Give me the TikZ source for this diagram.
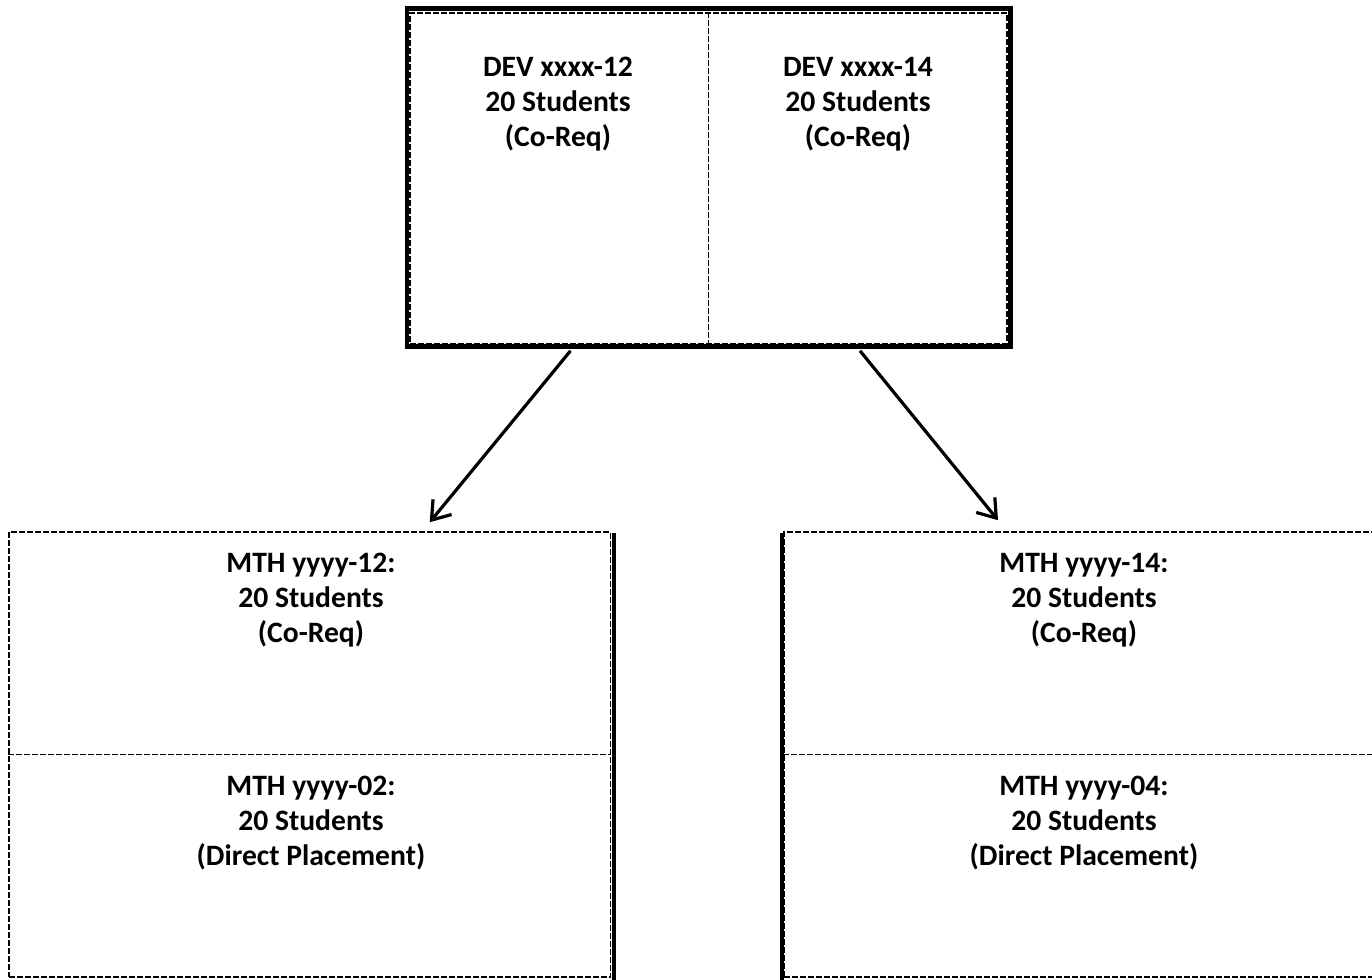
\documentclass[tikz,border=0pt]{standalone}
\usepackage{fontspec}
\setmainfont{Carlito}
\usetikzlibrary{arrows.meta,calc}
\begin{document}
\begin{tikzpicture}[x=0.5pt,y=-0.5pt,
  dashline/.style={draw=black,line width=0.8pt,dash pattern=on 3pt off 1pt},
  cell/.style={dashline,rectangle,inner sep=0pt},
  frame/.style={draw=black,line width=2.25pt,rectangle,inner sep=0pt},
  edgebar/.style={draw=black,line width=2pt},
  label/.style={align=center,font=\fontsize{14.8pt}{17.5pt}\selectfont\bfseries,inner sep=0pt},
  conn/.style={draw=black,line width=1.6pt,-{Straight Barb[length=8.5pt,width=12pt,line width=1.6pt]}}]
\useasboundingbox (0,0) rectangle (1372,980);
\clip (0,0) rectangle (1372,980);
% top box
\node[frame,minimum width=301.75pt,minimum height=169pt] (top) at (708.75,177.5) {};
\node[cell,minimum width=298.5pt,minimum height=165.5pt] (tin) at (708.5,178.5) {};
\draw[dashline] (tin.north) -- (tin.south);
\node[label] (tltext) at (558,104) {DEV xxxx-12\\20 Students\\(Co-Req)};
\node[label] (trtext) at (858,104) {DEV xxxx-14\\20 Students\\(Co-Req)};
% bottom left box
\node[cell,minimum width=300.75pt,minimum height=222.5pt] (bl) at (309.75,754.5) {};
\draw[dashline] (bl.west) -- (bl.east);
\coordinate (blbt) at (614,533);
\coordinate (blbb) at (614,984);
\draw[edgebar] (blbt) -- (blbb);
\node[label] (bl1text) at (311,600) {MTH yyyy-12:\\20 Students\\(Co-Req)};
\node[label] (bl2text) at (311,823) {MTH yyyy-02:\\20 Students\\(Direct Placement)};
% bottom right box
\node[cell,minimum width=301pt,minimum height=222.5pt] (br) at (1085,754.5) {};
\draw[dashline] (br.west) -- (br.east);
\coordinate (brbt) at (781.5,533);
\coordinate (brbb) at (781.5,984);
\draw[edgebar] (brbt) -- (brbb);
\node[label] (br1text) at (1084,600) {MTH yyyy-14:\\20 Students\\(Co-Req)};
\node[label] (br2text) at (1084,823) {MTH yyyy-04:\\20 Students\\(Direct Placement)};
% arrows
\draw[conn] ($(tin.south)+(-138,6)$) -- ($(bl.north)+(120,-9)$);
\draw[conn] ($(tin.south)+(151.5,6)$) -- ($(br.north)+(-87,-11)$);
\end{tikzpicture}
\end{document}
